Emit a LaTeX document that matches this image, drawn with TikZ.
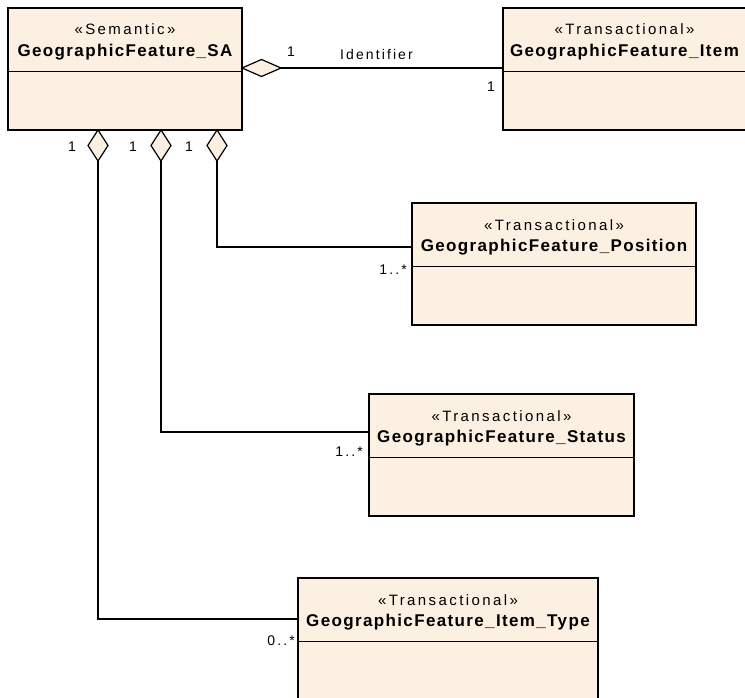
\documentclass[tikz,border=0pt]{standalone}
\usepackage{fontspec}
\setmainfont{Liberation Sans}
\newfontfamily\stfont[LetterSpace=16]{Liberation Sans}
\newfontfamily\nmfont[LetterSpace=8]{Liberation Sans}
\newfontfamily\lbfont[LetterSpace=15]{Liberation Sans}
\usetikzlibrary{shapes.geometric,calc}
\definecolor{umlfill}{RGB}{251,240,226}
\tikzset{
  classbox/.style={draw=black, line width=1.2pt, fill=umlfill, anchor=north west,
    minimum height=122pt, inner sep=0pt, outer sep=0pt},
  stereo/.style={anchor=base, font=\stfont\fontsize{15}{18}\selectfont, inner sep=0pt},
  cname/.style={anchor=base, font=\nmfont\bfseries\fontsize{17}{20}\selectfont, inner sep=0pt},
  mult/.style={font=\lbfont\fontsize{14}{16}\selectfont, inner sep=0pt},
  aggh/.style={diamond, draw=black, line width=1.2pt, fill=umlfill, minimum width=39pt,
    minimum height=17pt, inner sep=0pt, outer sep=0pt},
  aggv/.style={diamond, draw=black, line width=1.2pt, fill=umlfill, minimum width=20pt,
    minimum height=31pt, inner sep=0pt, outer sep=0pt},
  conn/.style={draw=black, line width=1.2pt},
}
\begin{document}
\begin{tikzpicture}[x=1pt,y=-1pt]
\useasboundingbox (0,0) rectangle (745,698);
\clip (0,0) rectangle (745,698);

% class boxes
\node[classbox, minimum width=234pt] (sa) at (8,8) {};
\node[classbox, minimum width=243pt] (item) at (503,8) {};
\node[classbox, minimum width=284pt] (pos) at (412,203) {};
\node[classbox, minimum width=265pt] (stat) at (369,394) {};
\node[classbox, minimum width=300pt] (ityp) at (298,578) {};

% compartment dividers
\foreach \b in {sa,item,pos,stat,ityp}{
  \draw[conn] ($(\b.north west)+(0,63.5)$) -- ($(\b.north east)+(0,63.5)$);
}

% texts
\node[stereo] (sa-st) at ($(sa.north)+(0,27)$) {«Semantic»};
\node[cname] (sa-nm) at ($(sa.north)+(0,48.7)$) {GeographicFeature\_SA};
\node[stereo] (item-st) at ($(item.north)+(0,27)$) {«Transactional»};
\node[cname] (item-nm) at ($(item.north)+(0,48.7)$) {GeographicFeature\_Item};
\node[stereo] (pos-st) at ($(pos.north)+(0,27)$) {«Transactional»};
\node[cname] (pos-nm) at ($(pos.north)+(0,48.7)$) {GeographicFeature\_Position};
\node[stereo] (stat-st) at ($(stat.north)+(0,27)$) {«Transactional»};
\node[cname] (stat-nm) at ($(stat.north)+(0,48.7)$) {GeographicFeature\_Status};
\node[stereo] (ityp-st) at ($(ityp.north)+(0,27)$) {«Transactional»};
\node[cname] (ityp-nm) at ($(ityp.north)+(0,48.7)$) {GeographicFeature\_Item\_Type};

% aggregation diamonds
\node[aggh] (dI) at (261.5,68) {};
\node[aggv] (dT) at (98,145.5) {};
\node[aggv] (dS) at (161,145.5) {};
\node[aggv] (dP) at (217,145.5) {};

% connectors
\draw[conn] (dI.east) -- (dI.east -| item.west);
\draw[conn] (dP.south) |- ($(pos.north west)+(0,44)$);
\draw[conn] (dS.south) |- ($(stat.north west)+(0,38)$);
\draw[conn] (dT.south) |- ($(ityp.north west)+(0,41)$);

% labels
\node[mult, anchor=base] (m-sa-i) at (291,57) {1};
\node[mult, anchor=base] (l-id) at (376.5,60) {Identifier};
\node[mult, anchor=base] (m-i) at (491,92) {1};
\node[mult, anchor=base] (m-t) at (72,152) {1};
\node[mult, anchor=base] (m-s) at (133,152) {1};
\node[mult, anchor=base] (m-p) at (189,152) {1};
\node[mult, anchor=base east] (m-pos) at ($(pos.north west)+(-5,71)$) {1..*};
\node[mult, anchor=base east] (m-stat) at ($(stat.north west)+(-6,62)$) {1..*};
\node[mult, anchor=base east] (m-ityp) at ($(ityp.north west)+(-3,67)$) {0..*};
\end{tikzpicture}
\end{document}
